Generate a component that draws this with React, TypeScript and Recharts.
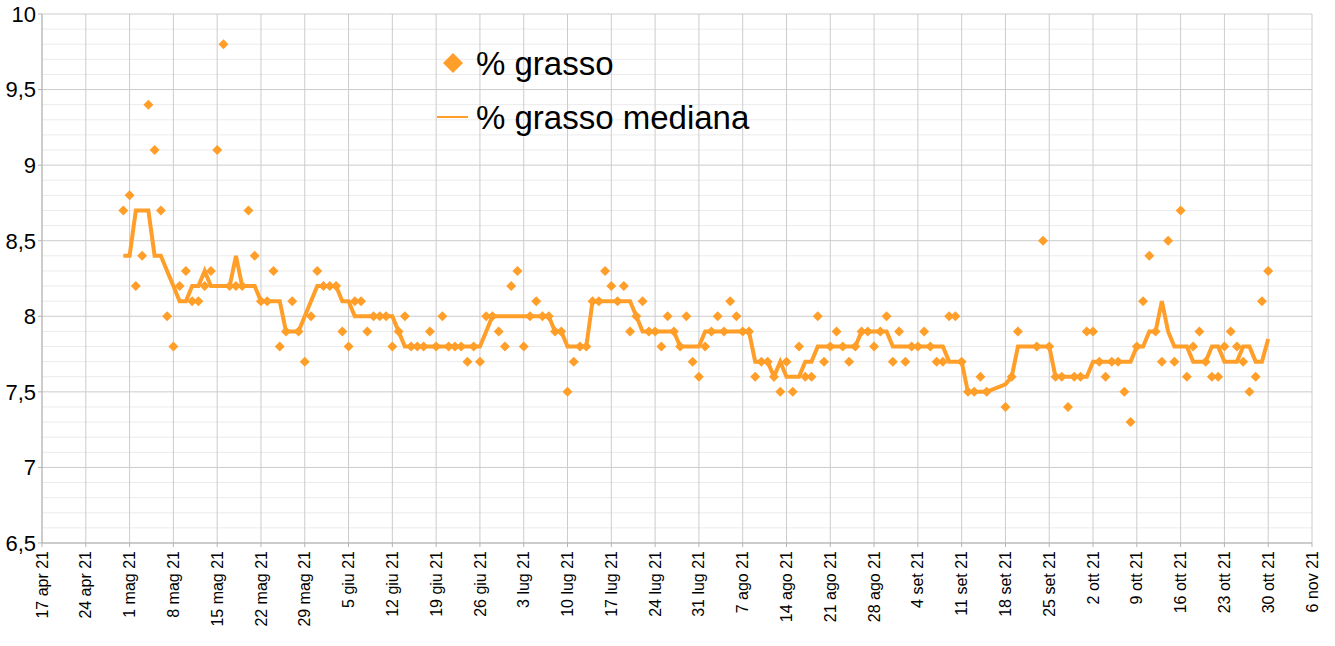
import {
  ComposedChart,
  Line,
  Scatter,
  XAxis,
  YAxis,
  CartesianGrid,
} from "recharts";

const ORANGE = "#ff9e28";
const FONT = '"Liberation Sans", Arial, sans-serif';

// days counted from 17 apr 21; first measure is 30 apr 21
const FIRST_DAY = 13;

// % grasso, one value per day (null = no measure)
const FAT = [
  8.7, 8.8, 8.2, 8.4, 9.4, 9.1, 8.7, // 30 apr
  8.0, 7.8, 8.2, 8.3, 8.1, 8.1, 8.2, // 7 mag
  8.3, 9.1, 9.8, 8.2, 8.2, 8.2, 8.7, // 14 mag
  8.4, 8.1, 8.1, 8.3, 7.8, 7.9, 8.1, // 21 mag
  7.9, 7.7, 8.0, 8.3, 8.2, 8.2, 8.2, // 28 mag
  7.9, 7.8, 8.1, 8.1, 7.9, 8.0, 8.0, // 4 giu
  8.0, 7.8, 7.9, 8.0, 7.8, 7.8, 7.8, // 11 giu
  7.9, 7.8, 8.0, 7.8, 7.8, 7.8, 7.7, // 18 giu
  7.8, 7.7, 8.0, 8.0, 7.9, 7.8, 8.2, // 25 giu
  8.3, 7.8, 8.0, 8.1, 8.0, 8.0, 7.9, // 2 lug
  7.9, 7.5, 7.7, 7.8, 7.8, 8.1, 8.1, // 9 lug
  8.3, 8.2, 8.1, 8.2, 7.9, 8.0, 8.1, // 16 lug
  7.9, 7.9, 7.8, 8.0, 7.9, 7.8, 8.0, // 23 lug
  7.7, 7.6, 7.8, 7.9, 8.0, 7.9, 8.1, // 30 lug
  8.0, 7.9, 7.9, 7.6, 7.7, 7.7, 7.6, // 6 ago
  7.5, 7.7, 7.5, 7.8, 7.6, 7.6, 8.0, // 13 ago
  7.7, 7.8, 7.9, 7.8, 7.7, 7.8, 7.9, // 20 ago
  7.9, 7.8, 7.9, 8.0, 7.7, 7.9, 7.7, // 27 ago
  7.8, 7.8, 7.9, 7.8, 7.7, 7.7, 8.0, // 3 set
  8.0, 7.7, 7.5, 7.5, 7.6, 7.5, null, // 10 set
  null, 7.4, 7.6, 7.9, null, null, 7.8, // 17 set
  8.5, 7.8, 7.6, 7.6, 7.4, 7.6, 7.6, // 24 set
  7.9, 7.9, 7.7, 7.6, 7.7, 7.7, 7.5, // 1 ott
  7.3, 7.8, 8.1, 8.4, 7.9, 7.7, 8.5, // 8 ott
  7.7, 8.7, 7.6, 7.8, 7.9, 7.7, 7.6, // 15 ott
  7.6, 7.8, 7.9, 7.8, 7.7, 7.5, 7.6, // 22 ott
  8.1, 8.3, // 29 ott
];

// % grasso mediana
const MEDIAN = [
  8.4, 8.4, 8.7, 8.7, 8.7, 8.4, 8.4,
  8.3, 8.2, 8.1, 8.1, 8.2, 8.2, 8.3,
  8.2, 8.2, 8.2, 8.2, 8.4, 8.2, 8.2,
  8.2, 8.1, 8.1, 8.1, 8.1, 7.9, 7.9,
  7.9, 8.0, 8.1, 8.2, 8.2, 8.2, 8.2,
  8.1, 8.1, 8.0, 8.0, 8.0, 8.0, 8.0,
  8.0, 8.0, 7.9, 7.8, 7.8, 7.8, 7.8,
  7.8, 7.8, 7.8, 7.8, 7.8, 7.8, 7.8,
  7.8, 7.8, 7.9, 8.0, 8.0, 8.0, 8.0,
  8.0, 8.0, 8.0, 8.0, 8.0, 8.0, 7.9,
  7.9, 7.8, 7.8, 7.8, 7.8, 8.1, 8.1,
  8.1, 8.1, 8.1, 8.1, 8.1, 8.0, 7.9,
  7.9, 7.9, 7.9, 7.9, 7.9, 7.8, 7.8,
  7.8, 7.8, 7.9, 7.9, 7.9, 7.9, 7.9,
  7.9, 7.9, 7.9, 7.7, 7.7, 7.7, 7.6,
  7.7, 7.6, 7.6, 7.6, 7.7, 7.7, 7.8,
  7.8, 7.8, 7.8, 7.8, 7.8, 7.8, 7.9,
  7.9, 7.9, 7.9, 7.9, 7.8, 7.8, 7.8,
  7.8, 7.8, 7.8, 7.8, 7.8, 7.8, 7.7,
  7.7, 7.7, 7.5, 7.5, 7.5, 7.5, null,
  null, 7.55, 7.6, 7.8, null, null, 7.8,
  7.8, 7.8, 7.6, 7.6, 7.6, 7.6, 7.6,
  7.6, 7.7, 7.7, 7.7, 7.7, 7.7, 7.7,
  7.7, 7.8, 7.8, 7.9, 7.9, 8.1, 7.9,
  7.8, 7.8, 7.8, 7.7, 7.7, 7.7, 7.8,
  7.8, 7.7, 7.7, 7.7, 7.8, 7.8, 7.7,
  7.7, 7.85,
];

const TICK_DAYS = [
  0, 7, 14, 21, 28, 35, 42, 49, 56, 63, 70, 77, 84, 91, 98, 105, 112, 119,
  126, 133, 140, 147, 154, 161, 168, 175, 182, 189, 196, 203,
];
const TICK_LABELS = [
  "17 apr 21", "24 apr 21", "1 mag 21", "8 mag 21", "15 mag 21", "22 mag 21",
  "29 mag 21", "5 giu 21", "12 giu 21", "19 giu 21", "26 giu 21", "3 lug 21",
  "10 lug 21", "17 lug 21", "24 lug 21", "31 lug 21", "7 ago 21", "14 ago 21",
  "21 ago 21", "28 ago 21", "4 set 21", "11 set 21", "18 set 21", "25 set 21",
  "2 ott 21", "9 ott 21", "16 ott 21", "23 ott 21", "30 ott 21", "6 nov 21",
];
const Y_TICKS = [6.5, 7, 7.5, 8, 8.5, 9, 9.5, 10];
const Y_MINOR = [
  6.6, 6.7, 6.8, 6.9, 7.1, 7.2, 7.3, 7.4, 7.6, 7.7, 7.8, 7.9, 8.1, 8.2, 8.3,
  8.4, 8.6, 8.7, 8.8, 8.9, 9.1, 9.2, 9.3, 9.4, 9.6, 9.7, 9.8, 9.9,
];

const rows = FAT.map((fat, i) => ({
  day: FIRST_DAY + i,
  fat,
  median: MEDIAN[i],
}));
const points = rows.filter((r) => r.fat !== null);

function Diamond(props: any) {
  const { cx, cy } = props;
  if (cx == null || cy == null) return null;
  const r = 5;
  return (
    <path
      d={`M${cx},${cy - r}L${cx + r},${cy}L${cx},${cy + r}L${cx - r},${cy}Z`}
      fill={ORANGE}
    />
  );
}

function DateTick(props: any) {
  const { x, y, payload } = props;
  const idx = TICK_DAYS.indexOf(payload.value);
  return (
    <text
      x={x}
      y={y}
      dx={-2}
      dy="0.35em"
      textAnchor="end"
      transform={`rotate(-90, ${x}, ${y})`}
      fontSize={16}
      fontFamily={FONT}
      fill="#000"
    >
      {TICK_LABELS[idx]}
    </text>
  );
}

// minor grid lines every 0.1, placed through the y axis scale
function minorLines({ yAxis, offset }: any) {
  if (yAxis && typeof yAxis.scale === "function") {
    return Y_MINOR.map((v) => yAxis.scale(v));
  }
  return Y_MINOR.map(
    (v) => offset.top + ((10 - v) / 3.5) * offset.height
  );
}

function LegendBox() {
  return (
    <div
      style={{
        position: "absolute",
        left: 433,
        top: 38,
        fontFamily: FONT,
        fontSize: 33,
        color: "#000",
        lineHeight: 1,
      }}
    >
      <div style={{ display: "flex", alignItems: "center", height: 50 }}>
        <svg width={43} height={30}>
          <path d="M20,5L30,15L20,25L10,15Z" fill={ORANGE} />
        </svg>
        <span>% grasso</span>
      </div>
      <div style={{ display: "flex", alignItems: "center", height: 58 }}>
        <svg width={43} height={30}>
          <line x1={4} y1={15} x2={35} y2={15} stroke={ORANGE} strokeWidth={2} />
        </svg>
        <span>% grasso mediana</span>
      </div>
    </div>
  );
}

export default function App() {
  return (
    <div style={{ position: "absolute", left: 0, top: 0, width: 1335, height: 646 }}>
      <ComposedChart
        width={1335}
        height={646}
        data={rows}
        margin={{ top: 14, right: 23, left: 0, bottom: 0 }}
      >
        <CartesianGrid
          vertical={false}
          horizontalCoordinatesGenerator={minorLines}
          stroke="#ebebeb"
          strokeWidth={1}
        />
        <CartesianGrid stroke="#cccccc" strokeWidth={1} />
        <XAxis
          dataKey="day"
          type="number"
          domain={[0, 203]}
          ticks={TICK_DAYS}
          interval={0}
          height={103}
          tick={<DateTick />}
          tickSize={4}
          tickLine={{ stroke: "#b3b3b3" }}
          axisLine={{ stroke: "#b3b3b3" }}
        />
        <YAxis
          domain={[6.5, 10]}
          ticks={Y_TICKS}
          interval={0}
          width={42}
          tickSize={4}
          tickMargin={2}
          tickLine={{ stroke: "#b3b3b3" }}
          axisLine={{ stroke: "#b3b3b3" }}
          tickFormatter={(v: number) => String(v).replace(".", ",")}
          tick={{ fill: "#000", fontSize: 22, fontFamily: FONT }}
        />
        <Line
          dataKey="median"
          name="% grasso mediana"
          type="linear"
          stroke={ORANGE}
          strokeWidth={4}
          dot={false}
          activeDot={false}
          connectNulls
          isAnimationActive={false}
        />
        <Scatter
          data={points}
          dataKey="fat"
          name="% grasso"
          fill={ORANGE}
          shape={<Diamond />}
          isAnimationActive={false}
        />
      </ComposedChart>
      <LegendBox />
    </div>
  );
}
